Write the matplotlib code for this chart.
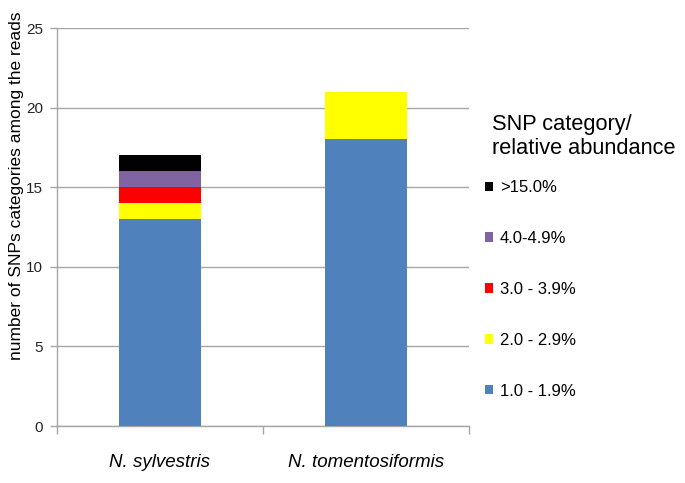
import matplotlib.pyplot as plt
from matplotlib.patches import Patch

plt.rcParams['font.family'] = ['Liberation Sans', 'DejaVu Sans']

# --- data ---
species = ['N. sylvestris', 'N. tomentosiformis']
categories = ['1.0 - 1.9%', '2.0 - 2.9%', '3.0 - 3.9%', '4.0-4.9%', '>15.0%']
counts = {
    '1.0 - 1.9%': [13, 18],
    '2.0 - 2.9%': [1, 3],
    '3.0 - 3.9%': [1, 0],
    '4.0-4.9%':   [1, 0],
    '>15.0%':     [1, 0],
}
colors = ['#4F81BD', '#FFFF00', '#FF0000', '#8064A2', '#000000']

fig = plt.figure(figsize=(6.85, 4.83), dpi=100)
ax = fig.add_axes([0.0832, 0.118, 0.6015, 0.824])

x = list(range(len(species)))
bottom = [0] * len(species)
for cat, col in zip(categories, colors):
    vals = counts[cat]
    ax.bar(x, vals, width=0.4, bottom=bottom, color=col, zorder=3)
    bottom = [b + v for b, v in zip(bottom, vals)]

ax.set_xlim(-0.5, 1.5)
ax.set_ylim(0, 25)
ax.set_yticks([0, 5, 10, 15, 20, 25])
ax.grid(axis='y', color='#a6a6a6', linewidth=1, zorder=0)

ax.set_xticks(x)
ax.set_xticklabels(species, fontstyle='italic', fontsize=13.5)
ax.tick_params(axis='x', length=0, pad=20)
ax.set_xticks([-0.5, 0.5, 1.5], minor=True)
ax.tick_params(axis='x', which='minor', length=6, color='#a6a6a6', width=1)
ax.tick_params(axis='y', labelsize=11, length=5, color='#a6a6a6', width=1,
               labelcolor='#262626', pad=5)

for side in ['top', 'right']:
    ax.spines[side].set_visible(False)
for side in ['left', 'bottom']:
    ax.spines[side].set_color('#a6a6a6')
    ax.spines[side].set_linewidth(1)

ax.set_ylabel('number of SNPs categories among the reads', fontsize=12.5)
ax.yaxis.set_label_coords(-0.08, 0.603)

# legend title drawn as text, entries as a legend
fig.text(0.718, 0.764, 'SNP category/\nrelative abundance', fontsize=15.7,
         ha='left', va='top', linespacing=1.2)
handles = [Patch(facecolor=c, edgecolor='none') for c in colors]
leg = fig.legend(handles[::-1], categories[::-1],
                 loc='upper left', bbox_to_anchor=(0.686, 0.658),
                 frameon=False, fontsize=12,
                 handlelength=0.5, handleheight=0.5, handletextpad=0.4,
                 labelspacing=2.15)

fig.savefig('out.png', dpi=100)
